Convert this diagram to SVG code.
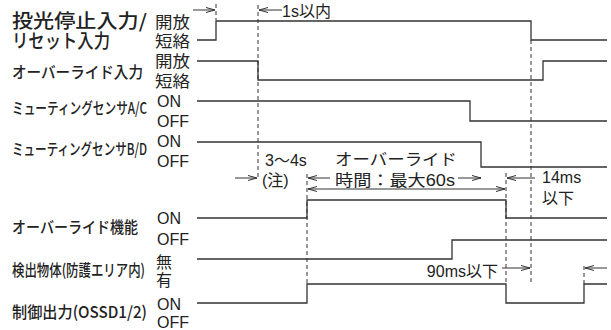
<svg xmlns="http://www.w3.org/2000/svg" width="611" height="330" viewBox="0 0 611 330">
<style>
text{font-family:"Liberation Sans","Noto Sans CJK JP",sans-serif;fill:#222}
.jp{font-family:"Noto Sans CJK JP",sans-serif;font-weight:500}
.jn{font-family:"Noto Sans CJK JP",sans-serif}
.lb{font-size:19px}
.md{font-size:16px}
.lv{font-size:16px}
.sig{fill:none;stroke:#333;stroke-width:1.3}
.dash{fill:none;stroke:#333;stroke-width:1;stroke-dasharray:4,3}
.arr{fill:none;stroke:#333;stroke-width:1}
</style>
<defs>
<marker id="ah" markerUnits="userSpaceOnUse" markerWidth="12" markerHeight="8" viewBox="-10 -4 12 8" refX="0" refY="0" orient="auto-start-reverse">
<path d="M-9,-2.5 L0,0 L-9,2.5" fill="none" stroke="#333" stroke-width="1"/>
</marker>
</defs>

<g id="labels">
<text class="jp lb" x="12" y="28" textLength="135" lengthAdjust="spacingAndGlyphs">投光停止入力/</text>
<text class="jp lb" x="12" y="48" textLength="98" lengthAdjust="spacingAndGlyphs">リセット入力</text>
<text class="jp md" x="12" y="78" font-size="17" textLength="131" lengthAdjust="spacingAndGlyphs">オーバーライド入力</text>
<text class="jp md" x="12" y="114" textLength="135" lengthAdjust="spacingAndGlyphs">ミューティングセンサA/C</text>
<text class="jp md" x="12" y="155" textLength="135" lengthAdjust="spacingAndGlyphs">ミューティングセンサB/D</text>
<text class="jp md" x="12" y="233" textLength="126" lengthAdjust="spacingAndGlyphs">オーバーライド機能</text>
<text class="jp md" x="12" y="276" font-size="15" textLength="133" lengthAdjust="spacingAndGlyphs">検出物体(防護エリア内)</text>
<text class="jp md" x="12" y="318" font-size="17" textLength="135" lengthAdjust="spacingAndGlyphs">制御出力(OSSD1/2)</text>
</g>

<g id="levels">
<text class="jn lv" x="155" y="28" textLength="35" lengthAdjust="spacingAndGlyphs">開放</text>
<text class="jn lv" x="155" y="47" textLength="35" lengthAdjust="spacingAndGlyphs">短絡</text>
<text class="jn lv" x="155" y="67" textLength="35" lengthAdjust="spacingAndGlyphs">開放</text>
<text class="jn lv" x="155" y="87" textLength="35" lengthAdjust="spacingAndGlyphs">短絡</text>
<text class="lv" x="157" y="107">ON</text>
<text class="lv" x="157" y="127">OFF</text>
<text class="lv" x="157" y="147">ON</text>
<text class="lv" x="157" y="167">OFF</text>
<text class="lv" x="157" y="224">ON</text>
<text class="lv" x="157" y="245">OFF</text>
<text class="jn lv" x="156" y="268">無</text>
<text class="jn lv" x="156" y="286">有</text>
<text class="lv" x="157" y="310">ON</text>
<text class="lv" x="157" y="328">OFF</text>
</g>

<g id="signals">
<path id="s1" class="sig" d="M197,40 H216 V21 H531 V40 H607"/>
<path id="s2" class="sig" d="M197,61 H258 V80 H543 V61 H607"/>
<path id="s3" class="sig" d="M197,101 H470 V121 H607"/>
<path id="s4" class="sig" d="M197,142 H481 V167 H607"/>
<path id="s5" class="sig" d="M197,218 H307 V200 H506 V218 H607"/>
<path id="s6" class="sig" d="M197,259 H452 V240 H607"/>
<path id="s7" class="sig" d="M197,303 H307 V284 H506 V303 H584 V284 H607"/>
</g>

<g id="connectors">
<path class="dash" d="M216,4 V20"/>
<path class="dash" d="M258,5 V178"/>
<path class="dash" d="M307,174 V284"/>
<path class="dash" d="M506,173 V284"/>
<path class="dash" d="M531,40 V284"/>
<path class="dash" d="M584,266 V284"/>
<path class="arr" d="M193,10 H215" marker-end="url(#ah)"/>
<path class="arr" d="M282,10 H259" marker-end="url(#ah)"/>
<path class="arr" d="M235,178 H257" marker-end="url(#ah)"/>
<path class="arr" d="M330,178 H308" marker-end="url(#ah)"/>
<path class="arr" d="M458,178 H481" marker-end="url(#ah)"/>
<path class="arr" d="M308,189 H505" marker-start="url(#ah)" marker-end="url(#ah)"/>
<path class="arr" d="M535,178 H507" marker-end="url(#ah)"/>
<path class="arr" d="M502,268 H530" marker-end="url(#ah)"/>
<path class="arr" d="M607,268 H585" marker-end="url(#ah)"/>
</g>

<g id="annotations">
<text class="md" x="282" y="17" font-size="15">1s以内</text>
<text class="md" x="265" y="166" font-size="17">3〜4s</text>
<text class="jn md" x="335" y="165" font-size="17" textLength="122" lengthAdjust="spacingAndGlyphs">オーバーライド</text>
<text class="md" x="262" y="186" font-size="16">(注)</text>
<text class="md" x="335" y="186" font-size="17" textLength="120" lengthAdjust="spacingAndGlyphs">時間：最大60s</text>
<text class="md" x="542" y="183" font-size="16">14ms</text>
<text class="jn md" x="542" y="204" font-size="16">以下</text>
<text class="md" x="498" y="277" font-size="16" text-anchor="end">90ms以下</text>
</g>
</svg>
